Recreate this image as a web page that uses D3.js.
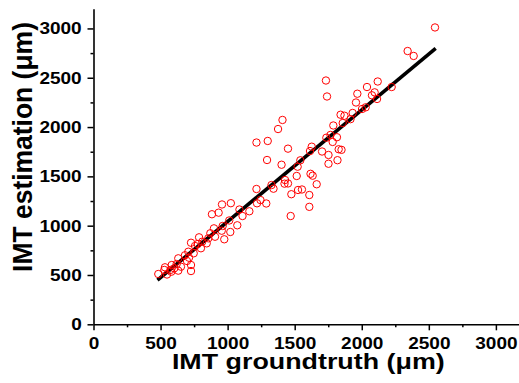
<!DOCTYPE html>
<html>
<head>
<meta charset="utf-8">
<script src="https://cdn.jsdelivr.net/npm/d3@7/dist/d3.min.js"></script>
<style>
  html, body { margin: 0; padding: 0; background: #fff; }
  svg { display: block; }
  text { font-family: "Liberation Sans", Arial, sans-serif; font-weight: bold; fill: #000; }
</style>
</head>
<body>
<svg id="chart" width="519" height="383"></svg>
<script>
// ---- data (µm) ----
const groundtruth = [
  2546, 2342, 2387, 1733, 1741, 2119, 2039, 2223, 1967, 2096, 2076, 2114, 1957, 2029, 2002,
  1409, 1376, 1842, 1871, 1932, 1916, 1858, 1788, 1299, 1215, 1294, 1450, 1736, 1767, 1815,
  1783, 1627, 1704, 1828, 1849, 1614, 1752, 1819, 1752, 1542, 1522, 1402, 1515, 1618, 1634,
  1664, 1428, 1424, 1450, 1327, 1342, 1525, 1554, 1475, 1609, 1609, 1470, 1215, 1245, 1288,
  1219, 958, 1024, 933, 883, 1088, 1162, 1111, 1012, 1072, 898, 963, 956, 1020, 871,
  975, 906, 856, 787, 811, 777, 757, 727, 844, 801, 747, 707, 682, 632, 712,
  697, 652, 727, 727, 583, 602, 573, 533, 632, 483, 548, 620, 580, 528
];
const estimation = [
  3010, 2771, 2721, 2472, 2310, 2462, 2406, 2406, 2338, 2352, 2322, 2285, 2249, 2200, 2183,
  2072, 1980, 2125, 2115, 2143, 2080, 2041, 2016, 1859, 1843, 1666, 1781, 1892, 1920, 1897,
  1849, 1801, 1752, 1775, 1769, 1757, 1717, 1664, 1628, 1663, 1598, 1618, 1504, 1526, 1507,
  1420, 1463, 1426, 1428, 1412, 1375, 1362, 1367, 1319, 1311, 1191, 1098, 1372, 1260, 1225,
  1227, 1215, 1228, 1132, 1116, 1164, 1146, 1098, 1053, 1004, 973, 997, 949, 936, 923,
  862, 888, 872, 882, 838, 814, 794, 827, 821, 771, 720, 736, 700, 669, 675,
  642, 584, 601, 540, 601, 568, 551, 578, 544, 510, 505, 611, 533, 551
];
const fitX = [477, 2551];
const fitY = [449, 2799];
const majorTicks = [0, 500, 1000, 1500, 2000, 2500, 3000];
const minorTicks = [250, 750, 1250, 1750, 2250, 2750, 3250];
const xTitle = "IMT groundtruth (\u03bcm)";
const yTitle = "IMT estimation (\u03bcm)";

// ---- layout ----
const svg = d3.select("#chart");
const x = d3.scaleLinear().domain([0, 3200]).range([93.5, 93.5 + 3200 * 0.13413]);
const y = d3.scaleLinear().domain([0, 3200]).range([324.3, 324.3 - 3200 * 0.09862]);
const labelScale = 1.12;

// minor ticks
svg.append("g").attr("transform", `translate(0,${y(0)})`)
  .call(d3.axisBottom(x).tickValues(minorTicks).tickSize(3).tickSizeOuter(0).tickFormat(""))
  .call(g => g.select(".domain").remove());
svg.append("g").attr("transform", `translate(${x(0)},0)`)
  .call(d3.axisLeft(y).tickValues(minorTicks.filter(v => v < 3200)).tickSize(3).tickSizeOuter(0).tickFormat(""))
  .call(g => g.select(".domain").remove());

// major axes
const gx = svg.append("g").attr("transform", `translate(0,${y(0)})`)
  .call(d3.axisBottom(x).tickValues(majorTicks).tickSize(6).tickSizeOuter(0).tickPadding(6.5).tickFormat(d3.format("d")));
const gy = svg.append("g").attr("transform", `translate(${x(0)},0)`)
  .call(d3.axisLeft(y).tickValues(majorTicks).tickSize(6).tickSizeOuter(0).tickPadding(5).tickFormat(d3.format("d")));

svg.selectAll(".tick line").attr("stroke", "#000").attr("stroke-width", 1.5);
svg.selectAll(".domain").attr("stroke", "#000").attr("stroke-width", 1.6);
svg.selectAll(".tick text").attr("font-size", 17).attr("font-family", null).attr("fill", "#000");
gx.selectAll(".tick text").attr("transform", `scale(${labelScale},1)`);
gy.selectAll(".tick text").attr("x", -11.8 / labelScale).attr("transform", `scale(${labelScale},1)`);

// fit line
svg.append("line")
  .attr("x1", x(fitX[0])).attr("y1", y(fitY[0]))
  .attr("x2", x(fitX[1])).attr("y2", y(fitY[1]))
  .attr("stroke", "#000").attr("stroke-width", 3.6).attr("stroke-linecap", "butt");

// points
svg.append("g").selectAll("circle")
  .data(groundtruth.map((g, i) => [g, estimation[i]]))
  .join("circle")
  .attr("cx", d => x(d[0])).attr("cy", d => y(d[1]))
  .attr("r", 3.7).attr("fill", "none").attr("stroke", "#ff0000").attr("stroke-width", 1);

// titles
const xt = svg.append("text").attr("text-anchor", "middle").attr("font-size", 22).text(xTitle);
const xtLen = xt.node().getComputedTextLength();
xt.attr("transform", `translate(308.3,369) scale(${273 / xtLen},1)`);

const yt = svg.append("text").attr("text-anchor", "middle").attr("font-size", 26).text(yTitle);
const ytLen = yt.node().getComputedTextLength();
yt.attr("transform", `translate(31.7,147) rotate(-90) scale(${250 / ytLen},1.05)`);
</script>
</body>
</html>
